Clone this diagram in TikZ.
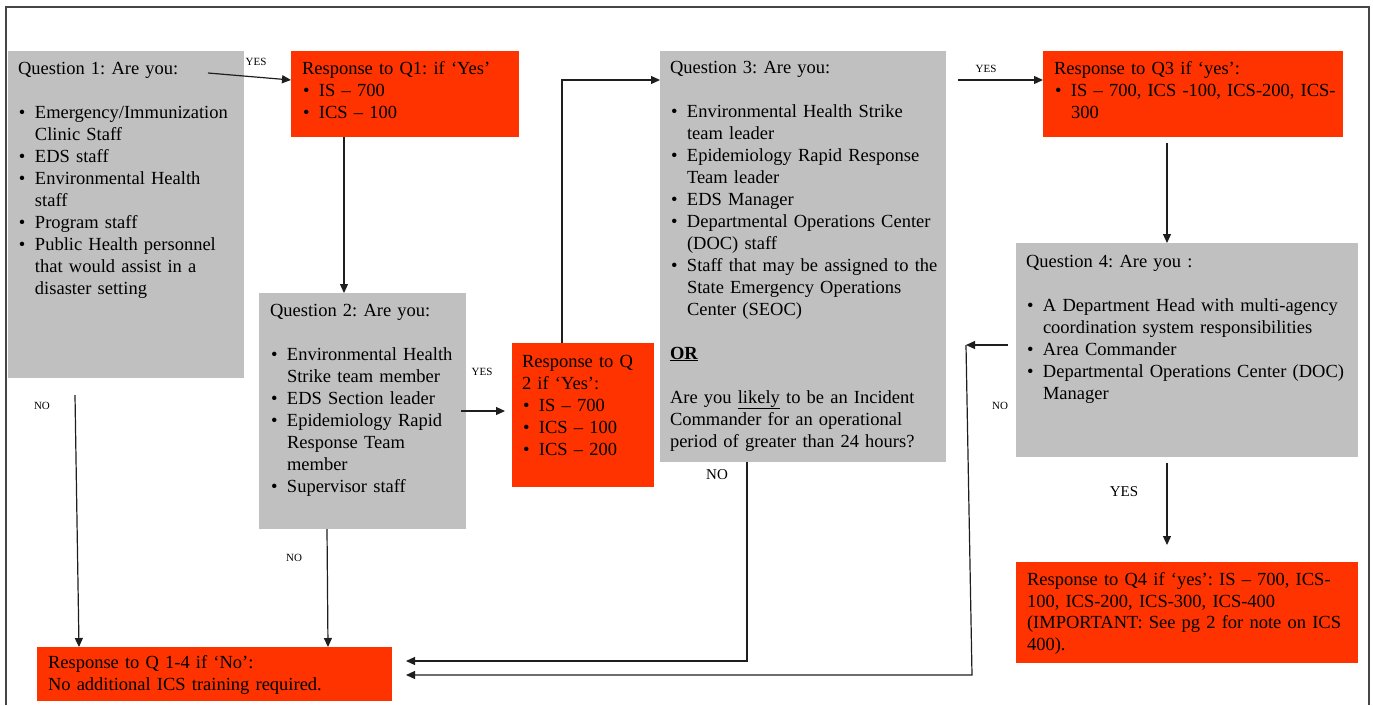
\documentclass[tikz,border=0pt]{standalone}
\usepackage{fontspec}
\setmainfont{Liberation Serif}
\usetikzlibrary{arrows.meta,calc}

\definecolor{boxgray}{RGB}{192,192,192}
\definecolor{boxred}{RGB}{255,51,0}
\definecolor{inkline}{RGB}{30,30,30}
\definecolor{framegray}{RGB}{70,70,70}

% bulleted item with hanging indent; \\ breaks the line inside the item
\newcommand\bul[1]{\par\noindent\hangindent=17pt\hangafter=1
  \makebox[17pt][l]{\hspace{1pt}\textbullet}{\let\\\newline #1}\par}
\newcommand\gap{\par\vskip22pt}

\tikzset{
  gbox/.style={fill=boxgray, draw=none, anchor=north west, inner sep=0pt, outer sep=0pt},
  rbox/.style={fill=boxred, draw=none, anchor=north west, inner sep=0pt, outer sep=0pt},
  txt/.style={anchor=north west, inner sep=0pt, outer sep=0pt, align=left,
              font=\fontsize{18.5}{22}\selectfont\frenchspacing},
  lab/.style={inner sep=0pt, font=\fontsize{11}{13}\selectfont},
  labbig/.style={inner sep=0pt, font=\fontsize{15}{17}\selectfont},
  arr/.style={draw=inkline, line width=1.2pt, -{Triangle[length=9pt,width=8pt]}},
}

\begin{document}
\begin{tikzpicture}[x=1pt,y=-1pt]
\useasboundingbox (0,0) rectangle (1373,705);

% page frame
\draw[framegray, line width=1.2pt] (6,705) -- (6,7) -- (1369,7) -- (1369,705);

% ---------- boxes ----------
\node[gbox, minimum width=236pt, minimum height=327pt] (q1) at (8,51) {};
\node[rbox, minimum width=228pt, minimum height=86pt]  (r1) at (291,51) {};
\node[gbox, minimum width=207pt, minimum height=236pt] (q2) at (259,293) {};
\node[rbox, minimum width=142pt, minimum height=144pt] (r2) at (512,343) {};
\node[gbox, minimum width=286pt, minimum height=411pt] (q3) at (660,51) {};
\node[rbox, minimum width=300pt, minimum height=86pt]  (r3) at (1043,51) {};
\node[gbox, minimum width=342pt, minimum height=214pt] (q4) at (1016,243) {};
\node[rbox, minimum width=342pt, minimum height=101pt] (r4) at (1016,562) {};
\node[rbox, minimum width=355pt, minimum height=54pt]  (fin) at (37,647) {};

% ---------- texts ----------
\node[txt, text width=226pt] (q1t) at ($(q1.north west)+(10,7.6)$) {\strut Question 1: Are you:\gap
  \bul{Emergency/Immunization\\Clinic Staff}
  \bul{EDS staff}
  \bul{Environmental Health\\staff}
  \bul{Program staff}
  \bul{Public Health personnel\\that would assist in a\\disaster setting}};

\node[txt, text width=217pt] (r1t) at ($(r1.north west)+(11,7.6)$) {\strut Response to Q1: if ‘Yes’
  \bul{IS – 700}
  \bul{ICS – 100}};

\node[txt, text width=200pt] (q2t) at ($(q2.north west)+(11,7.6)$) {\strut Question 2: Are you:\gap
  \bul{Environmental Health\\Strike team member}
  \bul{EDS Section leader}
  \bul{Epidemiology Rapid\\Response Team\\member}
  \bul{Supervisor staff}};

\node[txt, text width=140pt] (r2t) at ($(r2.north west)+(10,8.6)$) {\strut Response to Q\\2 if ‘Yes’:
  \bul{IS – 700}
  \bul{ICS – 100}
  \bul{ICS – 200}};

\node[txt, text width=284pt] (q3t) at ($(q3.north west)+(10,6.6)$) {\strut Question 3: Are you:\gap
  \bul{Environmental Health Strike\\team leader}
  \bul{Epidemiology Rapid Response\\Team leader}
  \bul{EDS Manager}
  \bul{Departmental Operations Center\\(DOC) staff}
  \bul{Staff that may be assigned to the\\State Emergency Operations\\Center (SEOC)}
  \gap\noindent\underline{\textbf{OR}}\gap
  \noindent Are you \underline{likely} to be an Incident\\Commander for an operational\\period of greater than 24 hours?};

\node[txt, text width=300pt] (r3t) at ($(r3.north west)+(11,7.6)$) {\strut Response to Q3 if ‘yes’:
  \bul{IS – 700, ICS -100, ICS-200, ICS-\\300}};

\node[txt, text width=340pt] (q4t) at ($(q4.north west)+(10,8.6)$) {\strut Question 4: Are you :\gap
  \bul{A Department Head with multi-agency\\coordination system responsibilities}
  \bul{Area Commander}
  \bul{Departmental Operations Center (DOC)\\Manager}};

\node[txt, text width=340pt, font=\fontsize{18.5}{21.5}\selectfont\frenchspacing] (r4t) at ($(r4.north west)+(11,8.6)$) {\strut Response to Q4 if ‘yes’: IS – 700, ICS-\\100, ICS-200, ICS-300, ICS-400\\(IMPORTANT: See pg 2 for note on ICS\\400).};

\node[txt, text width=350pt] (fint) at ($(fin.north west)+(11,5.6)$) {\strut Response to Q 1-4 if ‘No’:\\No additional ICS training required.};

% ---------- free connector ends ----------
\coordinate (q1y) at (208,73);
\coordinate (q1n) at (75,395);
\coordinate (r3o) at (1167,143);
\coordinate (q4y) at (1167,463);
\coordinate (q4k) at (966,345);
\coordinate (q4b) at (972,675);

% ---------- connectors ----------
\draw[arr] (q1y) -- ([yshift=-29pt]r1.north west);
\draw[arr] ([xshift=53pt]r1.south west) -- ([xshift=85pt]q2.north west);
\draw[arr] ([xshift=-5pt,yshift=-118pt]q2.north east) -- ([xshift=-7pt,yshift=-68pt]r2.north west);
\draw[arr] ([xshift=-21pt]r2.north) |- ([yshift=-29pt]q3.north west);
\draw[arr] ([xshift=12pt,yshift=-29pt]q3.north east) -- ([yshift=-29pt]r3.north west);
\draw[arr] (r3o) -- (r3o |- q4.north);
\draw[arr] (q4y) -- ([yshift=17pt]q4y |- r4.north);

% NO branches into the final box
\draw[arr] (q1n) -- ([xshift=42pt]fin.north west);
\draw[arr] ([xshift=68pt]q2.south west) -- ([xshift=291pt]fin.north west);
\draw[arr] ([xshift=87pt]q3.south west) |- ([xshift=14pt,yshift=13pt]fin.east);
\draw[arr] ([xshift=-8pt,yshift=5pt]q4.west) -- (q4k);
\draw[arr] (q4k) -- (q4b) -- ([xshift=14pt,yshift=-1pt]fin.east);

% ---------- branch labels ----------
\node[lab] (l1) at (256,62) {YES};
\node[lab] (l2) at (482,372) {YES};
\node[lab] (l3) at (986,69) {YES};
\node[lab] (l4) at (42,406) {NO};
\node[lab] (l5) at (294,558) {NO};
\node[lab] (l6) at (1000,406) {NO};
\node[labbig] (l7) at (717,475) {NO};
\node[labbig] (l8) at (1124,492) {YES};
\end{tikzpicture}
\end{document}
